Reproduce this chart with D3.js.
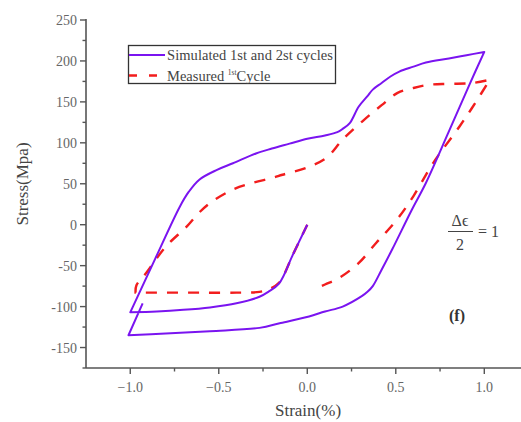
<!DOCTYPE html>
<meta charset="utf-8">
<script src="https://d3js.org/d3.v7.min.js"></script>
<style>
body { margin: 0; background: #fff; }
svg { font-family: "Liberation Serif", "Times New Roman", serif; }
</style>
<svg width="521" height="422"></svg>
<script>

// simulated 1st and 2nd cycles (strain %, stress MPa)
var simStrain = [0, -0.08, -0.16, -0.22, -0.27, -0.4, -0.55, -0.7, -0.85, -1.0,
  -0.86, -0.72, -0.67, -0.61, -0.51, -0.42, -0.29, -0.2, -0.1, 0, 0.1, 0.17, 0.2, 0.24, 0.29, 0.34, 0.37, 0.42, 0.47, 0.52, 0.6, 0.67, 0.8, 0.9, 1.0,
  0.92, 0.8, 0.67, 0.59, 0.48, 0.42, 0.37, 0.34, 0.31, 0.2, 0.1, 0.01, -0.15, -0.27, -0.55, -0.8, -1.01,
  -0.93];
var simStress = [0, -36, -72, -82, -88, -96, -101, -104, -106, -107,
  -42, 22, 40, 55, 67, 75, 87, 93, 99, 105, 109, 113, 117, 124, 144, 157, 165, 173, 181, 187, 193, 198, 203, 207, 211,
  173, 114, 51, 18, -30, -55, -75, -82, -87, -100, -106, -112, -120, -126, -130, -133, -135,
  -96];
var simCorners = [9, 34, 51];

// measured 1st cycle
var measStrain = [0, -0.08, -0.16, -0.22, -0.27, -0.4, -0.6, -0.8, -0.92, -0.97,
  -0.965, -0.91, -0.8, -0.68, -0.61, -0.54, -0.42, -0.31, -0.2, -0.14, 0, 0.11, 0.2, 0.31, 0.42, 0.51, 0.6, 0.69, 0.8, 0.93, 1.03,
  0.95, 0.86, 0.71, 0.6, 0.52, 0.45, 0.39, 0.29, 0.18, 0.1, 0.04];
var measStress = [0, -36, -71, -79, -82, -83, -83, -83, -83, -83,
  -74, -59, -27, -2, 15, 28, 43, 51, 57, 61, 70, 82, 104, 126, 146, 161, 167, 171, 172, 173, 177,
  149, 120, 75, 35, 10, -8, -22, -47, -65, -73, -79];
var measCorners = [9, 30];

var xTicks = [-1.0, -0.5, 0.0, 0.5, 1.0];
var xMinor = [-0.75, -0.25, 0.25, 0.75];
var yTicks = [-150, -100, -50, 0, 50, 100, 150, 200, 250];
var yMinor = [-175, -125, -75, -25, 25, 75, 125, 175, 225];

var svg = d3.select("svg");
var x = d3.scaleLinear().domain([-1.25, 1.2]).range([86, 519.7]);
var y = d3.scaleLinear().domain([-175, 250]).range([368, 20]);
var axisColor = "#555";

// x axis
var gx = svg.append("g").attr("transform", "translate(0," + y(-175) + ")");
gx.append("line").attr("x1", 86).attr("x2", 521).attr("stroke", axisColor).attr("stroke-width", 1.6);
gx.selectAll(".maj").data(xTicks).join("line")
    .attr("x1", d => x(d)).attr("x2", d => x(d)).attr("y1", 0).attr("y2", 6)
    .attr("stroke", axisColor).attr("stroke-width", 1.4);
gx.selectAll(".min").data(xMinor).join("line")
    .attr("x1", d => x(d)).attr("x2", d => x(d)).attr("y1", 0).attr("y2", 3.5)
    .attr("stroke", axisColor).attr("stroke-width", 1.4);
gx.selectAll("text").data(xTicks).join("text")
    .attr("x", d => x(d)).attr("y", 24)
    .attr("text-anchor", "middle").attr("font-size", 14).attr("fill", "#666")
    .text(d => d3.format(".1f")(d));

// y axis
var gy = svg.append("g").attr("transform", "translate(" + x(-1.25) + ",0)");
gy.append("line").attr("y1", y(250) - 1).attr("y2", y(-175)).attr("stroke", axisColor).attr("stroke-width", 1.6);
gy.selectAll(".maj").data(yTicks).join("line")
    .attr("y1", d => y(d)).attr("y2", d => y(d)).attr("x1", 0).attr("x2", -6)
    .attr("stroke", axisColor).attr("stroke-width", 1.4);
gy.selectAll(".min").data(yMinor).join("line")
    .attr("y1", d => y(d)).attr("y2", d => y(d)).attr("x1", 0).attr("x2", -3.5)
    .attr("stroke", axisColor).attr("stroke-width", 1.4);
gy.selectAll("text").data(yTicks).join("text")
    .attr("x", -9).attr("y", d => y(d) + 5)
    .attr("text-anchor", "end").attr("font-size", 14).attr("fill", "#666")
    .text(d => d);

// axis titles
svg.append("text").attr("x", 308).attr("y", 416).attr("text-anchor", "middle")
    .attr("font-size", 17).attr("fill", "#444").text("Strain(%)");
svg.append("text").attr("transform", "translate(28,184) rotate(-90)").attr("text-anchor", "middle")
    .attr("font-size", 17).attr("fill", "#444").text("Stress(Mpa)");

// smooth each branch, keep the reversal points sharp
function branches(xs, ys, corners) {
  var pts = d3.zip(xs, ys), cuts = [0].concat(corners, [pts.length - 1]), out = [];
  for (var i = 0; i < cuts.length - 1; i++) out.push(pts.slice(cuts[i], cuts[i + 1] + 1));
  return out;
}
var line = d3.line().x(d => x(d[0])).y(d => y(d[1])).curve(d3.curveCatmullRom.alpha(0.5));
function pathOf(segs) { return segs.map(s => line(s)).join("").replace(/M/g, (m, i) => i ? "L" : "M"); }

svg.append("path")
    .attr("d", pathOf(branches(measStrain, measStress, measCorners)))
    .attr("fill", "none")
    .attr("stroke", "#f21d1d").attr("stroke-width", 2.4)
    .attr("stroke-dasharray", "11,10");

svg.append("path")
    .attr("d", pathOf(branches(simStrain, simStress, simCorners)))
    .attr("fill", "none")
    .attr("stroke", "#7a14f0").attr("stroke-width", 2).attr("stroke-linejoin", "round");

// legend
var lg = svg.append("g");
lg.append("rect").attr("x", 128.5).attr("y", 45.5).attr("width", 207).attr("height", 38)
    .attr("fill", "#fff").attr("stroke", "#333").attr("stroke-width", 1.3);
lg.append("line").attr("x1", 129).attr("x2", 165).attr("y1", 55).attr("y2", 55)
    .attr("stroke", "#7a14f0").attr("stroke-width", 2);
lg.append("line").attr("x1", 129).attr("x2", 165).attr("y1", 75.5).attr("y2", 75.5)
    .attr("stroke", "#f21d1d").attr("stroke-width", 2.4).attr("stroke-dasharray", "8,12");
lg.append("text").attr("x", 167).attr("y", 60).attr("font-size", 14.5).attr("fill", "#444")
    .attr("textLength", 166).text("Simulated 1st and 2st cycles");
var t2 = lg.append("text").attr("x", 167).attr("y", 80.5).attr("font-size", 14.5).attr("fill", "#444");
t2.append("tspan").text("Measured ");
t2.append("tspan").attr("font-size", 7.5).attr("dy", -6).text("1st");
t2.append("tspan").attr("dy", 6).text("Cycle");

// annotations
var an = svg.append("g").attr("fill", "#444").attr("font-size", 16);
an.append("text").attr("x", 460).attr("y", 226).attr("text-anchor", "middle").text("Δϵ");
an.append("line").attr("x1", 448).attr("x2", 473).attr("y1", 231.5).attr("y2", 231.5)
    .attr("stroke", "#444").attr("stroke-width", 1);
an.append("text").attr("x", 460).attr("y", 250).attr("text-anchor", "middle").text("2");
an.append("text").attr("x", 478).attr("y", 237).text("= 1");
svg.append("text").attr("x", 449).attr("y", 321).attr("font-size", 16).attr("font-weight", "bold")
    .attr("fill", "#333").text("(f)");

</script>
